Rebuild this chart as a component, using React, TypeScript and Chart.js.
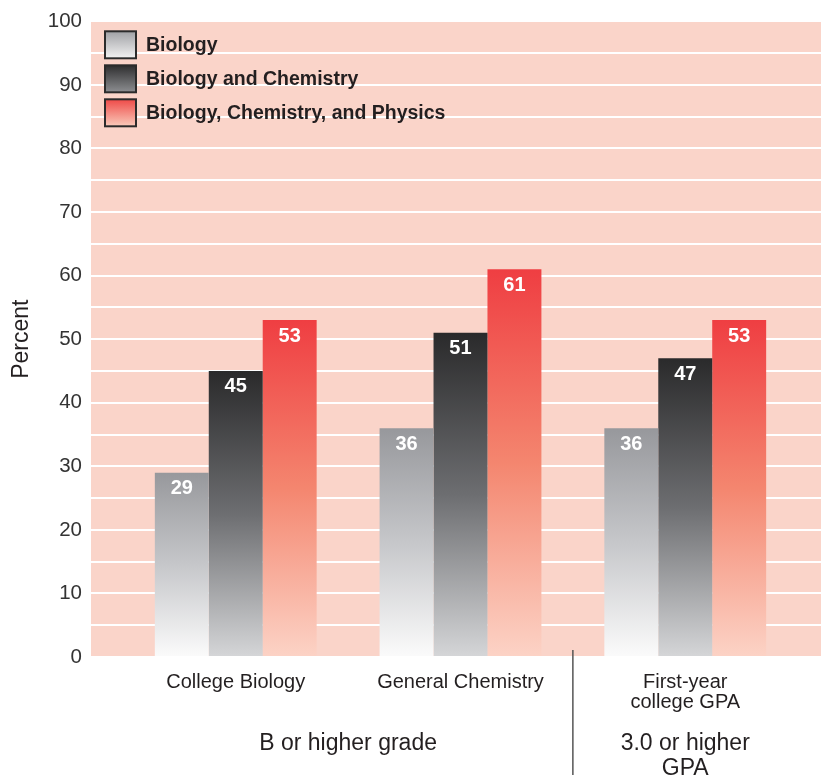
import React, { useEffect, useRef } from "react";
import { Chart, registerables } from "chart.js";

Chart.register(...registerables);

const categories: string[][] = [["College Biology"], ["General Chemistry"], ["First-year", "college GPA"]];
const seriesNames = ["Biology", "Biology and Chemistry", "Biology, Chemistry, and Physics"];
const biologyValues = [29, 36, 36];
const bioChemValues = [45, 51, 47];
const bioChemPhysValues = [53, 61, 53];
const yTickLabels = [0, 10, 20, 30, 40, 50, 60, 70, 80, 90, 100];
const groupLabels = [
  { lines: ["B or higher grade"], from: 1, to: 2 },
  { lines: ["3.0 or higher", "GPA"], from: 3, to: 3 },
];

const barStops: string[][] = [
  ["#97989c", "#c6c7ca", "#fbfbfb"],
  ["#2a2a2b", "#6d6e71", "#d5d6d8"],
  ["#ef3e42", "#f4866f", "#fcd3c6"],
];
const legendStops: string[][] = [
  ["#a0a1a5", "#f2f2f2"],
  ["#2e2e2f", "#8d8e91"],
  ["#ef4a48", "#f9cbbb"],
];

const FONT = "'Liberation Sans', Arial, Helvetica, sans-serif";

export default function App() {
  const ref = useRef<HTMLCanvasElement | null>(null);
  useEffect(() => {
    if (!ref.current) return;
    const allSeries = [biologyValues, bioChemValues, bioChemPhysValues];

    const bgPlugin = {
      id: "bgPlugin",
      beforeDraw(chart: any) {
        const { ctx, chartArea } = chart;
        ctx.save();
        ctx.fillStyle = "#fad4c9";
        ctx.fillRect(chartArea.left, chartArea.top, chartArea.right - chartArea.left, chartArea.bottom - chartArea.top);
        ctx.restore();
      },
    };

    const overlayPlugin = {
      id: "overlayPlugin",
      afterDatasetsDraw(chart: any) {
        const { ctx } = chart;
        ctx.save();
        ctx.fillStyle = "#ffffff";
        ctx.font = `bold 20px ${FONT}`;
        ctx.textAlign = "center";
        ctx.textBaseline = "middle";
        chart.data.datasets.forEach((ds: any, i: number) => {
          const meta = chart.getDatasetMeta(i);
          meta.data.forEach((el: any, j: number) => {
            ctx.fillText(String(ds.data[j].y), el.x, el.y + 16);
          });
        });
        ctx.restore();
      },
      afterDraw(chart: any) {
        const { ctx, chartArea } = chart;
        const x = chart.scales.x;
        ctx.save();
        // legend
        const lx = chartArea.left + 14;
        let ly = chartArea.top + 10;
        chart.data.datasets.forEach((ds: any, i: number) => {
          const w = 31, h = 27;
          const g = ctx.createLinearGradient(0, ly, 0, ly + h);
          g.addColorStop(0, legendStops[i][0]);
          g.addColorStop(1, legendStops[i][1]);
          ctx.fillStyle = g;
          ctx.fillRect(lx, ly, w, h);
          ctx.strokeStyle = "#2b2b2b";
          ctx.lineWidth = 2;
          ctx.strokeRect(lx, ly, w, h);
          ctx.fillStyle = "#231f20";
          ctx.font = `bold 19.5px ${FONT}`;
          ctx.textAlign = "left";
          ctx.textBaseline = "middle";
          ctx.fillText(ds.label, lx + 41, ly + h / 2 + 1);
          ly += 34;
        });
        // divider
        const dx = x.getPixelForValue(2.5);
        ctx.strokeStyle = "#555555";
        ctx.lineWidth = 1.5;
        ctx.beginPath();
        ctx.moveTo(dx, chartArea.bottom - 7);
        ctx.lineTo(dx, chartArea.bottom + 118);
        ctx.stroke();
        // group labels
        ctx.fillStyle = "#231f20";
        ctx.font = `23px ${FONT}`;
        ctx.textAlign = "center";
        ctx.textBaseline = "middle";
        groupLabels.forEach((gl) => {
          const cx = (x.getPixelForValue(gl.from) + x.getPixelForValue(gl.to)) / 2;
          gl.lines.forEach((line, k) => {
            ctx.fillText(line, cx, chartArea.bottom + 87 + k * 25);
          });
        });
        ctx.restore();
      },
    };

    const chart = new Chart(ref.current, {
      type: "bar",
      data: {
        datasets: allSeries.map((vals, i) => ({
          label: seriesNames[i],
          data: vals.map((v, j) => ({ x: j + 1, y: v })),
          borderWidth: 0,
          backgroundColor: (c: any) => {
            const ch = c.chart;
            if (!ch.chartArea || c.type !== "data") return barStops[i][0];
            const ys = ch.scales.y;
            const top = ys.getPixelForValue(c.raw.y);
            const bottom = ys.getPixelForValue(0);
            const g = ch.ctx.createLinearGradient(0, top, 0, bottom);
            g.addColorStop(0, barStops[i][0]);
            g.addColorStop(0.5, barStops[i][1]);
            g.addColorStop(1, barStops[i][2]);
            return g;
          },
          barPercentage: 1,
          categoryPercentage: 0.72,
        })),
      },
      options: {
        responsive: false,
        animation: false,
        layout: { padding: { top: 17, right: 0, left: 0, bottom: 0 } },
        plugins: { legend: { display: false }, tooltip: { enabled: false } },
        scales: {
          x: {
            type: "linear",
            offset: false,
            min: 0.356,
            max: 3.604,
            grid: { display: false, drawTicks: false, offset: false },
            border: { display: false },
            afterBuildTicks: (s: any) => {
              s.ticks = categories.map((_, i) => ({ value: i + 1 }));
            },
            afterFit: (s: any) => {
              s.height = 120;
            },
            ticks: {
              padding: 15,
              color: "#231f20",
              font: { family: FONT, size: 20, lineHeight: 1.0 },
              callback: (v: any) => categories[Math.round(Number(v)) - 1] ?? "",
              maxRotation: 0,
              autoSkip: false,
            },
          },
          y: {
            min: 0,
            max: 100,
            afterFit: (s: any) => {
              s.width = 91;
            },
            afterBuildTicks: (s: any) => {
              const t: any[] = [];
              for (let v = 0; v <= 100; v += 5) t.push({ value: v });
              s.ticks = t;
            },
            grid: { color: "#ffffff", lineWidth: 2, drawTicks: false },
            border: { display: false },
            title: {
              display: true,
              text: "Percent",
              color: "#231f20",
              font: { family: FONT, size: 23 },
              padding: { top: 8, bottom: 0 },
            },
            ticks: {
              padding: 9,
              color: "#333333",
              font: { family: FONT, size: 20.5 },
              autoSkip: false,
              callback: (v: any) => (yTickLabels.includes(Number(v)) ? String(v) : ""),
            },
          },
        },
      },
      plugins: [bgPlugin, overlayPlugin],
    } as any);
    return () => chart.destroy();
  }, []);

  return (
    <div style={{ position: "absolute", left: 0, top: 0, width: 821, height: 777 }}>
      <canvas ref={ref} width={821} height={777} style={{ display: "block" }} />
    </div>
  );
}
